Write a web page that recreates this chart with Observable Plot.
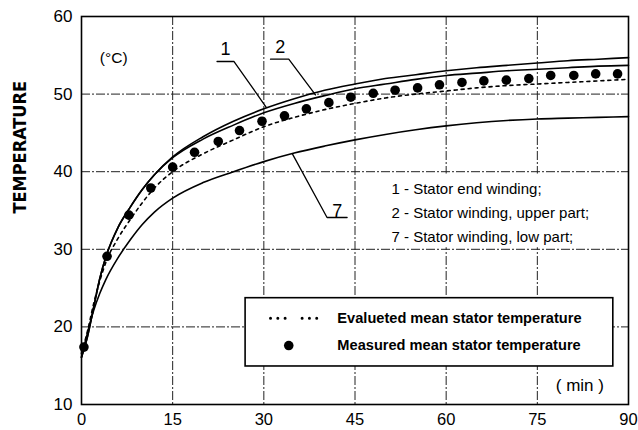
<!DOCTYPE html>
<html>
<head>
<meta charset="utf-8">
<script src="https://cdn.jsdelivr.net/npm/d3@7"></script>
<script src="https://cdn.jsdelivr.net/npm/@observablehq/plot@0.6"></script>
<style>
  html, body { margin: 0; padding: 0; background: #fff; }
  #chart { width: 638px; height: 430px; }
</style>
</head>
<body>
<div id="chart"></div>
<script>
// ---- data ----
const xTicks = [0, 15, 30, 45, 60, 75, 90];
const yTicks = [10, 20, 30, 40, 50, 60];

const curveTime = [0, 1, 2, 3, 4, 6, 8, 10, 12, 15, 20, 25, 30, 35, 40, 45, 50, 55, 60, 65, 70, 75, 80, 85, 90];
// 2 - Stator winding, upper part (top line)
const upperPart = [16.1, 18.8, 22.5, 26.2, 29.0, 32.8, 35.4, 37.7, 39.6, 41.9, 44.5, 46.5, 48.1, 49.4, 50.5, 51.3, 52.0, 52.5, 53.0, 53.4, 53.7, 54.0, 54.3, 54.5, 54.7];
// 1 - Stator end winding
const endWinding = [16.1, 18.8, 22.5, 26.2, 29.0, 32.8, 35.4, 37.7, 39.6, 41.8, 44.2, 46.0, 47.6, 48.8, 49.8, 50.7, 51.3, 51.9, 52.4, 52.7, 53.0, 53.2, 53.4, 53.6, 53.7];
// 7 - Stator winding, low part
const lowPart = [16.1, 19.3, 22.1, 24.3, 26.1, 28.9, 31.2, 33.2, 34.8, 36.6, 38.6, 40.0, 41.3, 42.4, 43.3, 44.1, 44.8, 45.4, 45.9, 46.3, 46.6, 46.8, 46.9, 47.0, 47.1];
// Evalueted mean stator temperature
const evaluated = [16.6, 19.5, 23.0, 25.9, 28.3, 31.4, 33.8, 36.0, 37.9, 40.0, 42.3, 44.1, 45.8, 47.0, 48.0, 48.8, 49.5, 50.0, 50.4, 50.8, 51.1, 51.3, 51.5, 51.7, 51.9];

// Measured mean stator temperature
const measuredTime = [0.4, 4.2, 7.8, 11.4, 15.0, 18.6, 22.5, 26.0, 29.7, 33.4, 37.0, 40.7, 44.3, 48.0, 51.6, 55.3, 58.9, 62.6, 66.2, 69.9, 73.6, 77.2, 81.0, 84.6, 88.2];
const measuredTemp = [17.4, 29.1, 34.4, 37.9, 40.6, 42.5, 43.9, 45.3, 46.5, 47.2, 48.1, 48.9, 49.6, 50.1, 50.5, 50.8, 51.2, 51.5, 51.7, 51.8, 52.0, 52.4, 52.4, 52.6, 52.6];

// curve labels and leader lines (data units)
const curveLabels = ["1", "2", "7"];
const labelX = [23.7, 32.7, 42.1];
const labelY = [55.8, 56.0, 34.9];
const leader1X = [22.3, 25.1, 30.4], leader1Y = [54.2, 54.2, 48.3];
const leader2X = [31.1, 34.1, 38.5], leader2Y = [54.5, 54.5, 49.9];
const leader7X = [34.7, 40.4, 43.7], leader7Y = [42.3, 34.1, 34.1];

const keyLines = ["1 - Stator end winding;", "2 - Stator winding, upper part;", "7 - Stator winding, low part;"];
const keyX = 51.0;
const keyY = [37.8, 34.7, 31.6];
const keyBox = {x1: 45.6, x2: 89.8, y1: 30.2, y2: 39.7};

const legendLabels = ["Evalueted mean stator temperature", "Measured mean stator temperature"];
const legendBox = {x1: 27.0, x2: 87.5, y1: 14.9, y2: 23.7};
const legendTextX = 42.1;
const legendY = [21.1, 17.6];
const legendSampleX = [31.1, 39.1];
const legendDotX = 34.1;

const unitY = {text: "(°C)", x: 5.3, y: 54.6};
const unitX = {text: "( min )", x: 82.0, y: 12.4};
const yTitle = "TEMPERATURE";

// ---- build ----
const toPts = (xs, ys) => xs.map((x, i) => ({x, y: ys[i]}));
const font = "'Liberation Sans', Arial, Helvetica, sans-serif";
const grid = {stroke: "#222", strokeWidth: 1, strokeDasharray: "9,2,2,2"};

const chart = Plot.plot({
  width: 638,
  height: 430,
  marginLeft: 81,
  marginRight: 10,
  marginTop: 16,
  marginBottom: 26,
  style: {fontFamily: font, background: "#fff", color: "#000"},
  x: {domain: [0, 90]},
  y: {domain: [10, 60]},
  marks: [
    Plot.ruleX(xTicks, grid),
    Plot.ruleY(yTicks, grid),
    // white patch behind the curve key
    Plot.rect([keyBox], {x1: "x1", x2: "x2", y1: "y1", y2: "y2", fill: "#fff"}),
    // curves
    Plot.line(toPts(curveTime, upperPart), {x: "x", y: "y", curve: "monotone-x", stroke: "#000", strokeWidth: 1.6}),
    Plot.line(toPts(curveTime, endWinding), {x: "x", y: "y", curve: "monotone-x", stroke: "#000", strokeWidth: 1.6}),
    Plot.line(toPts(curveTime, lowPart), {x: "x", y: "y", curve: "monotone-x", stroke: "#000", strokeWidth: 1.6}),
    Plot.line(toPts(curveTime, evaluated), {x: "x", y: "y", curve: "monotone-x", stroke: "#000", strokeWidth: 1.6, strokeDasharray: "3,4"}),
    Plot.dot(toPts(measuredTime, measuredTemp), {x: "x", y: "y", r: 4.8, fill: "#000", stroke: "none"}),
    // leaders
    Plot.line(toPts(leader1X, leader1Y), {x: "x", y: "y", stroke: "#000", strokeWidth: 1.3}),
    Plot.line(toPts(leader2X, leader2Y), {x: "x", y: "y", stroke: "#000", strokeWidth: 1.3}),
    Plot.line(toPts(leader7X, leader7Y), {x: "x", y: "y", stroke: "#000", strokeWidth: 1.3}),
    Plot.text(curveLabels, {x: (d, i) => labelX[i], y: (d, i) => labelY[i], text: d => d, fontSize: 18, fill: "#000"}),
    // curve key
    Plot.text(keyLines, {x: keyX, y: (d, i) => keyY[i], text: d => d, textAnchor: "start", fontSize: 15, fill: "#000"}),
    // legend box
    Plot.rect([legendBox], {x1: "x1", x2: "x2", y1: "y1", y2: "y2", fill: "#fff", stroke: "#000", strokeWidth: 1.6}),
    Plot.line(toPts(legendSampleX, [legendY[0], legendY[0]]), {x: "x", y: "y", stroke: "#000", strokeWidth: 3, strokeLinecap: "round", strokeDasharray: "0,7.3,0,7.3,0,17"}),
    Plot.dot([{x: legendDotX, y: legendY[1]}], {x: "x", y: "y", r: 4.8, fill: "#000", stroke: "none"}),
    Plot.text(legendLabels, {x: legendTextX, y: (d, i) => legendY[i], text: d => d, textAnchor: "start", fontSize: 14.6, fontWeight: "bold", fill: "#000"}),
    // unit labels
    Plot.text([unitY], {x: "x", y: "y", text: "text", fontSize: 15.5, fill: "#000"}),
    Plot.text([unitX], {x: "x", y: "y", text: "text", fontSize: 17, fill: "#000"}),
    // y title
    Plot.text([yTitle], {frameAnchor: "left", dx: -61, dy: 3, rotate: -90, text: d => d, fontSize: 18, fontWeight: "bold", fontFamily: "'Liberation Sans Narrow', 'Arial Narrow', 'DejaVu Sans Condensed', sans-serif", fill: "#000"}),
    Plot.frame({stroke: "#000", strokeWidth: 1.6}),
    Plot.axisX({ticks: xTicks, tickSize: 0, tickPadding: 9, fontSize: 16.5, label: null, fill: "#000"}),
    Plot.axisY({ticks: yTicks, tickSize: 0, tickPadding: 9, fontSize: 17, label: null, fill: "#000"})
  ]
});
document.getElementById("chart").appendChild(chart);
</script>
</body>
</html>
